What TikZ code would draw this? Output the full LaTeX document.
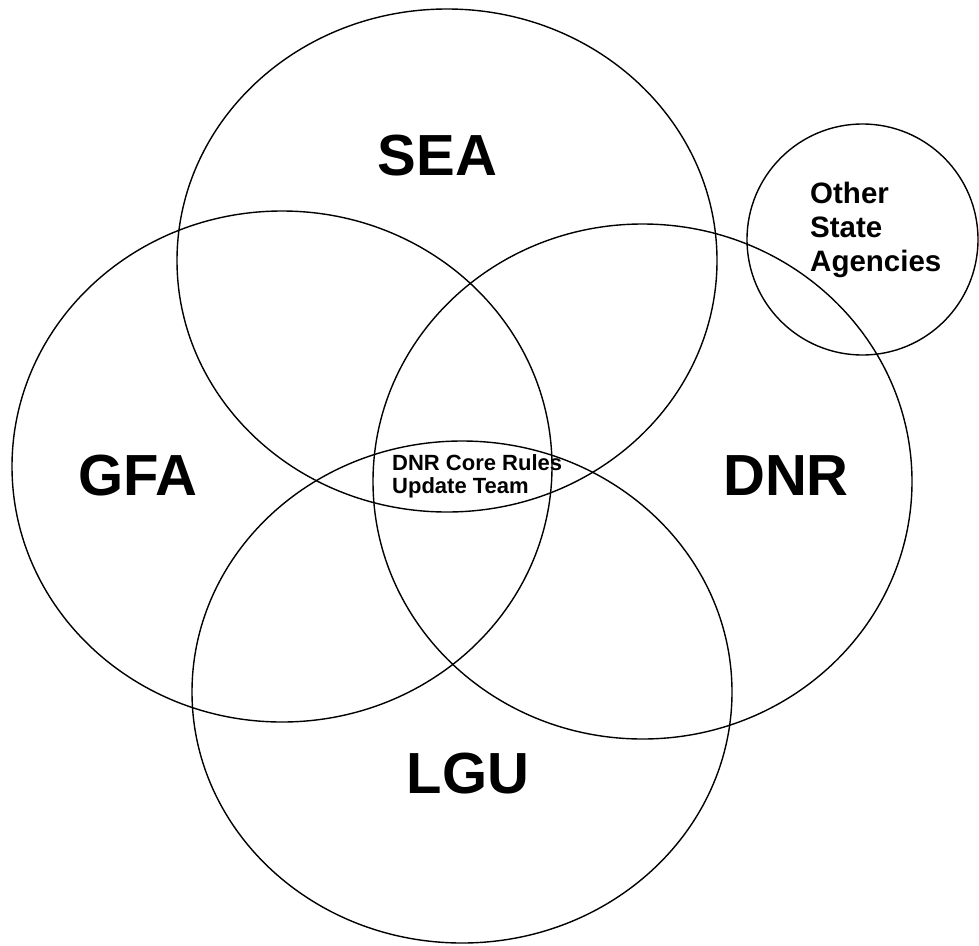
\documentclass[tikz,border=0pt]{standalone}
\usepackage{fontspec}
\setmainfont{Liberation Sans}
\usepackage{tikz}

\tikzset{
  ring/.style={draw, line width=1.4pt},
  big/.style={font=\bfseries\fontsize{58}{60}\selectfont, anchor=base, inner sep=0pt},
  small/.style={font=\bfseries\fontsize{22}{23.5}\selectfont, align=left, anchor=north west, inner sep=0pt},
  mid/.style={font=\bfseries\fontsize{29.5}{34}\selectfont, align=left, anchor=north west, inner sep=0pt}
}

\begin{document}
\begin{tikzpicture}[x=1pt, y=-1pt]
         \useasboundingbox (0, 0) rectangle (979, 945);
         \draw [ring] (447, 260.5) ellipse [x radius=270pt, y radius=251.5pt];
         \draw [ring] (282, 466.5) ellipse [x radius=270pt, y radius=255.5pt];
         \draw [ring] (642.5, 481.5) ellipse [x radius=269.5pt, y radius=257.5pt];
         \draw [ring] (462, 692) ellipse [x radius=270pt, y radius=251pt];
         \draw [ring] (862.5, 239.5) circle [radius=115.5pt];
         \node [big] (SEA) at (437.5, 175) {SEA};
         \node [big] (GFA) at (138, 495) {GFA};
         \node [big] (DNR) at (786, 495) {DNR};
         \node [big] (LGU) at (468, 793) {LGU};
         \node [small] (CRT) at (392, 454) {DNR Core Rules\\Update Team};
         \node [mid] (OSA) at (810, 182) {Other\\State\\Agencies};
 \end{tikzpicture}
\end{document}
